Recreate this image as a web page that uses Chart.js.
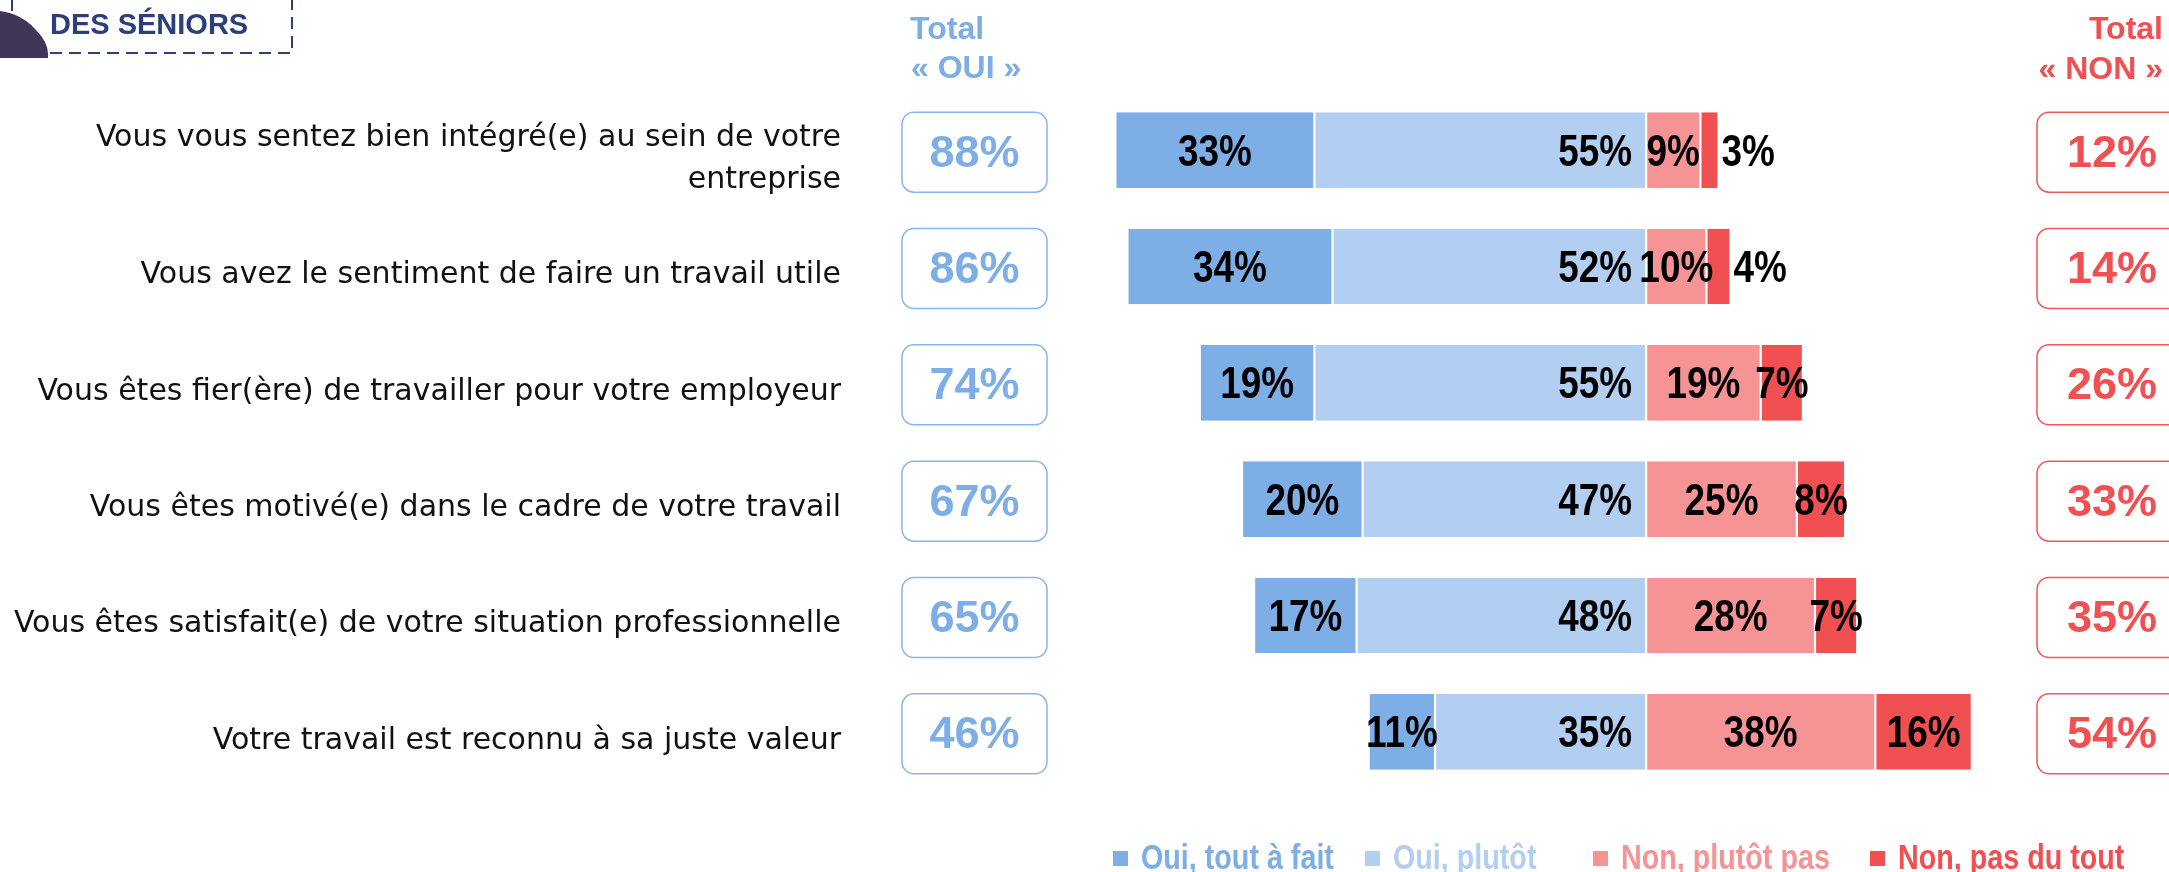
<!DOCTYPE html>
<html lang="fr">
<head>
<meta charset="utf-8">
<script src="https://cdn.jsdelivr.net/npm/chart.js@4.4.1/dist/chart.umd.min.js"></script>
<style>
html, body { margin: 0; padding: 0; background: #fff; }
canvas { display: block; }
</style>
</head>
<body>
<canvas id="myChart" width="2169" height="872"></canvas>
<script>
// donnees
const categories = [
  ['Vous vous sentez bien intégré(e) au sein de votre', 'entreprise'],
  'Vous avez le sentiment de faire un travail utile',
  'Vous êtes fier(ère) de travailler pour votre employeur',
  'Vous êtes motivé(e) dans le cadre de votre travail',
  'Vous êtes satisfait(e) de votre situation professionnelle',
  'Votre travail est reconnu à sa juste valeur'
];
const ouiToutAFait = [33, 34, 19, 20, 17, 11];
const ouiPlutot    = [55, 52, 55, 47, 48, 35];
const nonPlutotPas = [9, 10, 19, 25, 28, 38];
const nonPasDuTout = [3, 4, 7, 8, 7, 16];
const totalOui = [88, 86, 74, 67, 65, 46];
const totalNon = [12, 14, 26, 33, 35, 54];
const legendLabels = ['Oui, tout à fait', 'Oui, plutôt', 'Non, plutôt pas', 'Non, pas du tout'];

const BLEU = '#7eaee6';
const BLEU_CLAIR = '#b2cef1';
const ROSE = '#f69495';
const ROUGE = '#f15052';
const ARIAL = '"Liberation Sans", Arial, sans-serif';

function boite(ctx, x, y, w, h, r) {
  ctx.beginPath();
  ctx.moveTo(x + r, y);
  ctx.lineTo(x + w - r, y);
  ctx.arcTo(x + w, y, x + w, y + r, r);
  ctx.lineTo(x + w, y + h - r);
  ctx.arcTo(x + w, y + h, x + w - r, y + h, r);
  ctx.lineTo(x + r, y + h);
  ctx.arcTo(x, y + h, x, y + h - r, r);
  ctx.lineTo(x, y + r);
  ctx.arcTo(x, y, x + r, y, r);
  ctx.closePath();
}

// texte "etroit" (facon Arial Narrow) : Arial gras compresse en largeur
function texteEtroit(ctx, txt, x, y, align) {
  const w = ctx.measureText(txt).width * 0.82;
  let x0 = x;
  if (align === 'center') x0 = x - w / 2;
  if (align === 'right') x0 = x - w;
  ctx.save();
  ctx.translate(x0, y);
  ctx.scale(0.82, 1);
  ctx.textAlign = 'left';
  ctx.fillText(txt, 0, 0);
  ctx.restore();
}

const etiquettes = {
  id: 'etiquettes',
  afterDatasetsDraw(chart) {
    const ctx = chart.ctx;
    ctx.save();
    ctx.font = 'bold 45px ' + ARIAL;
    ctx.fillStyle = '#000';
    ctx.textBaseline = 'middle';
    chart.data.datasets.forEach((ds, di) => {
      const meta = chart.getDatasetMeta(di);
      meta.data.forEach((bar, i) => {
        const v = Math.abs(ds.data[i]);
        const left = Math.min(bar.x, bar.base);
        const right = Math.max(bar.x, bar.base);
        const y = bar.y + 3;
        const txt = v + '%';
        if (ds.label === 'Oui, plutôt') {
          texteEtroit(ctx, txt, right - 14, y, 'right');
        } else if (ds.label === 'Non, pas du tout' && v < 5) {
          texteEtroit(ctx, txt, right + 3, y, 'left');
        } else {
          texteEtroit(ctx, txt, (left + right) / 2, y, 'center');
        }
      });
    });
    ctx.restore();
  }
};

const decor = {
  id: 'decor',
  afterDraw(chart) {
    const ctx = chart.ctx;
    const yScale = chart.scales.y;
    ctx.save();

    // cartouche en haut a gauche
    ctx.fillStyle = '#3f3658';
    ctx.beginPath();
    ctx.moveTo(0, 11);
    ctx.quadraticCurveTo(22, 14, 36, 30);
    ctx.quadraticCurveTo(48, 42, 48, 54);
    ctx.lineTo(48, 58);
    ctx.lineTo(0, 58);
    ctx.closePath();
    ctx.fill();
    ctx.strokeStyle = '#2e3f7c';
    ctx.lineWidth = 2;
    ctx.setLineDash([12, 7]);
    ctx.beginPath();
    ctx.moveTo(12, 0); ctx.lineTo(12, 11);
    ctx.moveTo(50, 53); ctx.lineTo(292, 53); ctx.lineTo(292, 0);
    ctx.stroke();
    ctx.setLineDash([]);
    ctx.fillStyle = '#2c3e7c';
    ctx.font = 'bold 29px ' + ARIAL;
    ctx.textAlign = 'left';
    ctx.textBaseline = 'alphabetic';
    ctx.fillText('DES SÉNIORS', 50, 34);

    // entetes
    ctx.font = 'bold 32px ' + ARIAL;
    ctx.fillStyle = BLEU;
    ctx.fillText('Total', 910, 39);
    ctx.fillText('« OUI »', 911, 78);
    ctx.textAlign = 'right';
    ctx.fillStyle = ROUGE;
    ctx.fillText('Total', 2163, 39);
    ctx.fillText('« NON »', 2163, 79);

    // totaux encadres
    ctx.font = 'bold 45px ' + ARIAL;
    ctx.textAlign = 'center';
    ctx.textBaseline = 'middle';
    ctx.lineWidth = 1.5;
    categories.forEach((c, i) => {
      const y = yScale.getPixelForValue(i) + 2;
      ctx.strokeStyle = '#8ab4ea';
      boite(ctx, 902, y - 40, 145, 80, 12);
      ctx.stroke();
      ctx.fillStyle = BLEU;
      ctx.fillText(totalOui[i] + '%', 974.5, y + 2);
      ctx.strokeStyle = '#f1575a';
      boite(ctx, 2037, y - 40, 145, 80, 12);
      ctx.stroke();
      ctx.fillStyle = ROUGE;
      ctx.fillText(totalNon[i] + '%', 2112, y + 2);
    });

    // legende
    const couleurs = [BLEU, BLEU_CLAIR, ROSE, ROUGE];
    const xs = [1113, 1365, 1593, 1870];
    ctx.font = 'bold 35px ' + ARIAL;
    legendLabels.forEach((l, i) => {
      ctx.fillStyle = couleurs[i];
      ctx.fillRect(xs[i], 851, 15, 15);
      texteEtroit(ctx, l, xs[i] + 28, 859, 'left');
    });
    ctx.restore();
  }
};

const ctx2 = document.getElementById('myChart');
const barChart = new Chart(ctx2, {
  type: 'bar',
  data: {
    labels: categories,
    datasets: [
      { label: 'Oui, plutôt', data: ouiPlutot.map(v => -v), backgroundColor: BLEU_CLAIR },
      { label: 'Oui, tout à fait', data: ouiToutAFait.map(v => -v), backgroundColor: BLEU },
      { label: 'Non, plutôt pas', data: nonPlutotPas, backgroundColor: ROSE },
      { label: 'Non, pas du tout', data: nonPasDuTout, backgroundColor: ROUGE }
    ]
  },
  options: {
    indexAxis: 'y',
    responsive: false,
    animation: false,
    layout: { padding: { left: 0, right: 161, top: 92, bottom: 82 } },
    datasets: {
      bar: {
        categoryPercentage: 1,
        barPercentage: 0.65,
        borderColor: '#fff',
        borderWidth: { left: 1.1, right: 1.1, top: 0, bottom: 0 },
        borderSkipped: false
      }
    },
    scales: {
      x: { stacked: true, display: false, min: -100, max: 60 },
      y: {
        stacked: true,
        grid: { display: false, drawTicks: true, tickLength: 202 },
        border: { display: false },
        ticks: {
          padding: 0,
          labelOffset: 9,
          color: '#111',
          font: { family: '"DejaVu Sans", sans-serif', size: 30, lineHeight: 1.38 }
        },
        afterFit(scale) {
          scale.width = 1043;
          scale.paddingTop = 0;
          scale.paddingBottom = 0;
        }
      }
    },
    plugins: {
      legend: { display: false },
      tooltip: { enabled: false }
    }
  },
  plugins: [etiquettes, decor]
});
</script>
</body>
</html>
